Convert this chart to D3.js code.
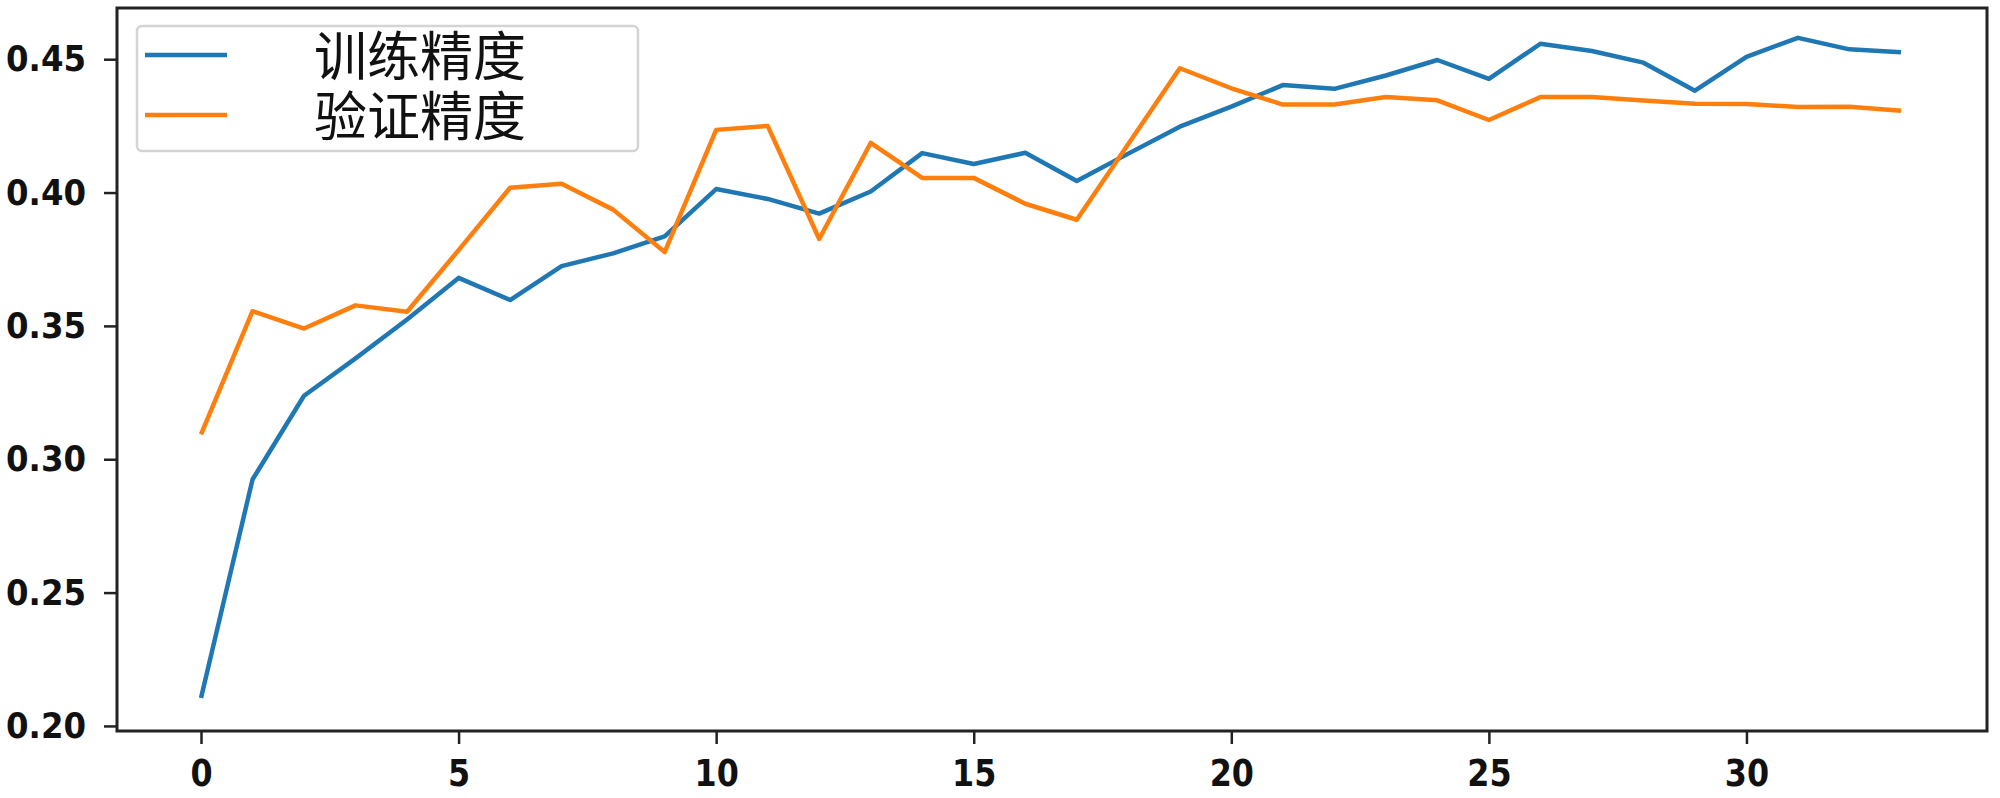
<!DOCTYPE html>
<html>
<head>
<meta charset="utf-8">
<script src="https://cdn.jsdelivr.net/npm/d3@7"></script>
<style>
  html, body { margin: 0; padding: 0; background: #fff; }
  svg { display: block; }
</style>
</head>
<body>
<div id="chart"></div>
<script>
// values
const epochs = d3.range(0, 34);
const trainAcc = [0.2105, 0.2924, 0.3238, 0.3378, 0.3524, 0.3680, 0.3597, 0.3724, 0.3772, 0.3836,
                  0.4013, 0.3976, 0.3921, 0.4004, 0.4148, 0.4107, 0.4149, 0.4043, 0.4146, 0.4247,
                  0.4322, 0.4403, 0.4389, 0.4439, 0.4497, 0.4426, 0.4558, 0.4531, 0.4487, 0.4382,
                  0.4509, 0.4580, 0.4537, 0.4526];
const valAcc = [0.3093, 0.3555, 0.3490, 0.3577, 0.3553, 0.3784, 0.4018, 0.4033, 0.3936, 0.3777,
                0.4235, 0.4250, 0.3826, 0.4186, 0.4055, 0.4055, 0.3958, 0.3898, 0.4182, 0.4466,
                0.4391, 0.4330, 0.4330, 0.4358, 0.4346, 0.4272, 0.4358, 0.4358, 0.4345, 0.4333,
                0.4332, 0.4321, 0.4322, 0.4307];
const xTicks = [0, 5, 10, 15, 20, 25, 30];
const yTicks = [0.20, 0.25, 0.30, 0.35, 0.40, 0.45];
const seriesNames = ['训练精度', '验证精度'];
const seriesColors = ['#1f77b4', '#ff7f0e'];

const width = 2000, height = 798;
const plot = { left: 116, right: 1986, top: 8, bottom: 731 };

const svg = d3.select('#chart').append('svg')
    .attr('width', width)
    .attr('height', height);

const x = d3.scaleLinear().domain([-1.65, 34.65]).range([plot.left, plot.right]);
const y = d3.scaleLinear().domain([0.1981, 0.4692]).range([plot.bottom, plot.top]);

// squeeze tick labels a bit, the reference digits are narrow
function squeeze(sel, k) {
    sel.each(function() {
        const w = this.getComputedTextLength();
        d3.select(this).attr('textLength', w * k).attr('lengthAdjust', 'spacingAndGlyphs');
    });
}

// x axis
const xAxis = svg.append('g')
    .attr('transform', `translate(0,${plot.bottom})`)
    .call(d3.axisBottom(x).tickValues(xTicks).tickFormat(d3.format('d')).tickSize(13).tickPadding(16));
xAxis.select('.domain').remove();
xAxis.selectAll('line').attr('stroke', '#222').attr('stroke-width', 2.5);
xAxis.selectAll('text')
    .attr('fill', '#111')
    .style('font-family', '"DejaVu Sans", sans-serif')
    .style('font-weight', 'bold')
    .style('font-size', '37px')
    .call(squeeze, 0.86);

// y axis
const yAxis = svg.append('g')
    .attr('transform', `translate(${plot.left + 1},0)`)
    .call(d3.axisLeft(y).tickValues(yTicks).tickFormat(d3.format('.2f')).tickSize(13).tickPadding(18));
yAxis.select('.domain').remove();
yAxis.selectAll('line').attr('stroke', '#222').attr('stroke-width', 2.5);
yAxis.selectAll('text')
    .attr('fill', '#111')
    .style('font-family', '"DejaVu Sans", sans-serif')
    .style('font-weight', 'bold')
    .style('font-size', '36px')
    .call(squeeze, 0.9);

// lines
const line = d3.line()
    .x((d, i) => x(epochs[i]))
    .y(d => y(d));

[trainAcc, valAcc].forEach((vals, k) => {
    svg.append('path')
        .datum(vals)
        .attr('fill', 'none')
        .attr('stroke', seriesColors[k])
        .attr('stroke-width', 4.5)
        .attr('stroke-linejoin', 'round')
        .attr('d', line);
});

// frame
svg.append('rect')
    .attr('x', plot.left + 1)
    .attr('y', plot.top)
    .attr('width', plot.right - plot.left)
    .attr('height', plot.bottom - plot.top)
    .attr('fill', 'none')
    .attr('stroke', '#222')
    .attr('stroke-width', 3);

// legend
const legend = svg.append('g');
legend.append('rect')
    .attr('x', 137)
    .attr('y', 26)
    .attr('width', 501)
    .attr('height', 125)
    .attr('rx', 5)
    .attr('fill', '#fff')
    .attr('stroke', '#d4d4d4')
    .attr('stroke-width', 2.5);

const rowY = [53, 113];
seriesNames.forEach((name, k) => {
    legend.append('line')
        .attr('x1', 145).attr('x2', 227)
        .attr('y1', rowY[k] + 2).attr('y2', rowY[k] + 2)
        .attr('stroke', seriesColors[k])
        .attr('stroke-width', 4.5);
    legend.append('text')
        .attr('x', 420)
        .attr('y', rowY[k])
        .attr('text-anchor', 'middle')
        .attr('dominant-baseline', 'central')
        .attr('fill', '#111')
        .style('font-family', '"Noto Sans CJK SC", sans-serif')
        .style('font-size', '53px')
        .text(name);
});
</script>
</body>
</html>
